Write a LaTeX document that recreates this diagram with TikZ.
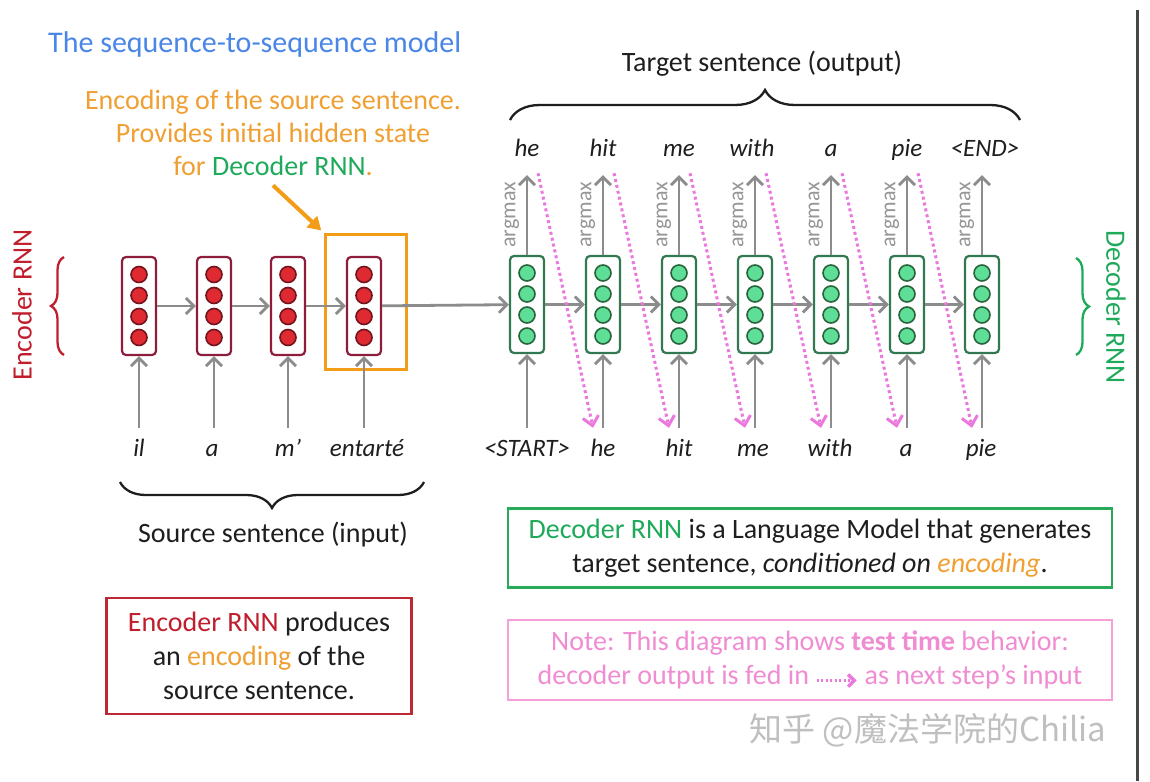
\documentclass[tikz,border=0pt]{standalone}
\usepackage{fontspec}
\setmainfont{Carlito}
\newfontfamily\cjkfont{Noto Sans CJK SC}
\usetikzlibrary{arrows.meta,calc,decorations.pathreplacing}
\definecolor{titleblue}{RGB}{74,134,232}
\definecolor{orangetxt}{RGB}{240,160,50}
\definecolor{orangebox}{RGB}{243,156,24}
\definecolor{redtxt}{RGB}{192,30,45}
\definecolor{encline}{RGB}{140,30,60}
\definecolor{encfill}{RGB}{222,42,48}
\definecolor{encdotline}{RGB}{115,20,30}
\definecolor{greentxt}{RGB}{30,170,90}
\definecolor{decline}{RGB}{50,120,80}
\definecolor{decfill}{RGB}{95,222,152}
\definecolor{decdotline}{RGB}{40,100,60}
\definecolor{arrgray}{RGB}{140,140,140}
\definecolor{labgray}{RGB}{150,150,150}
\definecolor{pinkarr}{RGB}{235,120,220}
\definecolor{pinktxt}{RGB}{240,140,210}
\definecolor{pinkbox}{RGB}{245,160,215}
\definecolor{txt}{RGB}{30,30,30}
\definecolor{redbox}{RGB}{190,40,50}
\definecolor{greenbox}{RGB}{40,170,90}
\definecolor{edgeline}{RGB}{70,70,70}
\tikzset{
  big/.style={font=\fontsize{28}{34}\selectfont, text=txt},
  word/.style={font=\fontsize{25}{30}\selectfont\itshape, text=txt, inner sep=0pt, text height=17pt, text depth=5pt},
  enccell/.style={draw=encline, line width=2.2pt, rounded corners=4pt, minimum width=34pt, minimum height=98pt, fill=white},
  deccell/.style={draw=decline, line width=2.2pt, rounded corners=4pt, minimum width=34pt, minimum height=97pt, fill=white},
  encdot/.style={circle, draw=encdotline, fill=encfill, line width=1.6pt, minimum size=16pt, inner sep=0pt},
  decdot/.style={circle, draw=decdotline, fill=decfill, line width=1.6pt, minimum size=16pt, inner sep=0pt},
  garrow/.style={draw=arrgray, line width=2.8pt, -{Straight Barb[length=8pt,width=16pt]}},
  parrow/.style={draw=pinkarr, line width=3pt, dash pattern=on 3pt off 3pt, -{Straight Barb[length=9pt,width=16pt]}},
  bracestyle/.style={decorate, decoration={brace, amplitude=#1}, line width=2.3pt},
  argl/.style={rotate=90, font=\fontsize{22}{26}\selectfont, text=labgray, inner sep=0pt},
  infobox/.style={draw, line width=2.5pt, align=center, font=\fontsize{28}{34}\selectfont, text=txt}
}
\begin{document}
\begin{tikzpicture}[x=1pt,y=-1pt]
\useasboundingbox (0,0) rectangle (1150,781);
\fill[white] (0,0) rectangle (1150,781);

% title
\node[anchor=west, font=\fontsize{30}{36}\selectfont, text=titleblue, inner sep=0pt] (title) at (48,45) {The sequence-to-sequence model};

% annotation
\node[align=center, font=\fontsize{28}{33}\selectfont, text=orangetxt] (ann) at (273,133)
  {Encoding of the source sentence.\\Provides initial hidden state\\for \textcolor{greentxt}{Decoder RNN}.};

% orange box
\node[draw=orangebox, line width=3pt, minimum width=81pt, minimum height=135pt] (encbox) at (365.5,301.5) {};
\draw[draw=orangebox, line width=4pt, -{Triangle[length=13pt,width=15pt]}, shorten >=3pt]
  ($(ann.south)+(0,6)$) -- (encbox.north west);

% encoder cells
\foreach \i/\x in {1/139,2/214,3/288,4/364} {
  \node[enccell] (e\i) at (\x,306) {};
  \foreach \j/\dy in {1/-31.5,2/-10.5,3/10.5,4/31.5}
    \node[encdot] (e\i d\j) at ($(e\i)+(0,\dy)$) {};
}
% decoder cells
\foreach \i/\x in {1/527,2/603,3/679,4/755,5/831,6/907,7/982} {
  \node[deccell] (d\i) at (\x,304.5) {};
  \foreach \j/\dy in {1/-31.5,2/-10.5,3/10.5,4/31.5}
    \node[decdot] (d\i d\j) at ($(d\i)+(0,\dy)$) {};
}

% horizontal arrows
\draw[garrow] (e1) -- (e2);
\draw[garrow] (e2) -- (e3);
\draw[garrow] (e3) -- (e4);
\draw[garrow] (e4) -- (d1);
\foreach \i/\n in {1/2,2/3,3/4,4/5,5/6,6/7}
  \draw[garrow] (d\i) -- (d\n);

% source words
\node[word] (s1) at (139,450) {il};
\node[word] (s2) at (212,450) {a};
\node[word] (s3) at (288,450) {m’};
\node[word] (s4) at (367,450) {entarté};
\foreach \i in {1,2,3,4}
  \draw[garrow, shorten <=11pt] (e\i.south |- s\i.north) -- (e\i.south);

% decoder input words
\node[word] (w1) at (527,450) {<START>};
\node[word] (w2) at (603,450) {he};
\node[word] (w3) at (679,450) {hit};
\node[word] (w4) at (753,450) {me};
\node[word] (w5) at (830,450) {with};
\node[word] (w6) at (906,450) {a};
\node[word] (w7) at (981,450) {pie};
\foreach \i in {1,...,7}
  \draw[garrow, shorten <=11pt] (d\i.south |- w\i.north) -- (d\i.south);

% output words
\node[word] (o1) at (527,150) {he};
\node[word] (o2) at (603,150) {hit};
\node[word] (o3) at (679,150) {me};
\node[word] (o4) at (752,150) {with};
\node[word] (o5) at (831,150) {a};
\node[word] (o6) at (907,150) {pie};
\node[word] (o7) at (985,150) {<END>};
\foreach \i in {1,...,7} {
  \coordinate (t\i) at ($(d\i.north |- o\i.south)+(0,14)$);
  \draw[garrow] (d\i.north) -- (t\i);
  \node[argl] (a\i) at ($(d\i.north)+(-15,-40)$) {argmax};
}

% pink feedback arrows
\foreach \i/\n in {1/2,2/3,3/4,4/5,5/6,6/7} {
  \coordinate (ps\i) at ($(t\i)+(11,-2)$);
  \coordinate (pe\i) at ($(d\n.south |- w\n.north)+(-10,-11)$);
  \draw[parrow] (ps\i) -- (pe\i);
}

% braces and side labels
\draw[bracestyle=13pt, draw=redtxt] (64,355) -- (64,257);
\node[rotate=90, font=\fontsize{28}{34}\selectfont, text=redtxt] (enclab) at (22,305) {Encoder RNN};
\draw[bracestyle=13pt, draw=greentxt] (1076,258) -- (1076,355);
\node[rotate=-90, font=\fontsize{28}{34}\selectfont, text=greentxt] (declab) at (1116,307) {Decoder RNN};

\draw[bracestyle=26pt, draw=txt] (424,482) -- (120,482);
\node[big] (srclab) at (273,535) {Source sentence (input)};
\draw[bracestyle=30pt, draw=txt] (510,120) -- (1020,120);
\node[big] (tgtlab) at (762,64) {Target sentence (output)};

% info boxes
\node[infobox, draw=redbox, minimum width=305pt, minimum height=116pt] (encinfo) at (259,656)
  {\textcolor{redtxt}{Encoder RNN} produces\\an \textcolor{orangetxt}{encoding} of the\\source sentence.};
\node[infobox, draw=greenbox, minimum width=604pt, minimum height=79pt] (decinfo) at (810,548)
  {\textcolor{greentxt}{Decoder RNN} is a Language Model that generates\\target sentence, \textit{conditioned on \textcolor{orangetxt}{encoding}}.};
\node[infobox, draw=pinkbox, text=pinktxt, minimum width=604pt, minimum height=80pt] (note) at (810,660)
  {Note: This diagram shows \textbf{test time} behavior:\\decoder output is fed in \tikz[baseline=-4pt]\draw[draw=pinkarr, line width=2.5pt, dash pattern=on 2pt off 2.5pt, -{Straight Barb[length=6pt,width=12pt,line width=3.5pt]}] (0pt,0pt) -- (40pt,0pt); as next step’s input};

% watermark
\node[font=\cjkfont\fontsize{33}{38}\selectfont, text=black!25] (wm) at (928,730) {知乎 @魔法学院的Chilia};

% right edge line
\draw[draw=edgeline, line width=3pt] (1137,10) -- (1137,781);
\end{tikzpicture}
\end{document}
